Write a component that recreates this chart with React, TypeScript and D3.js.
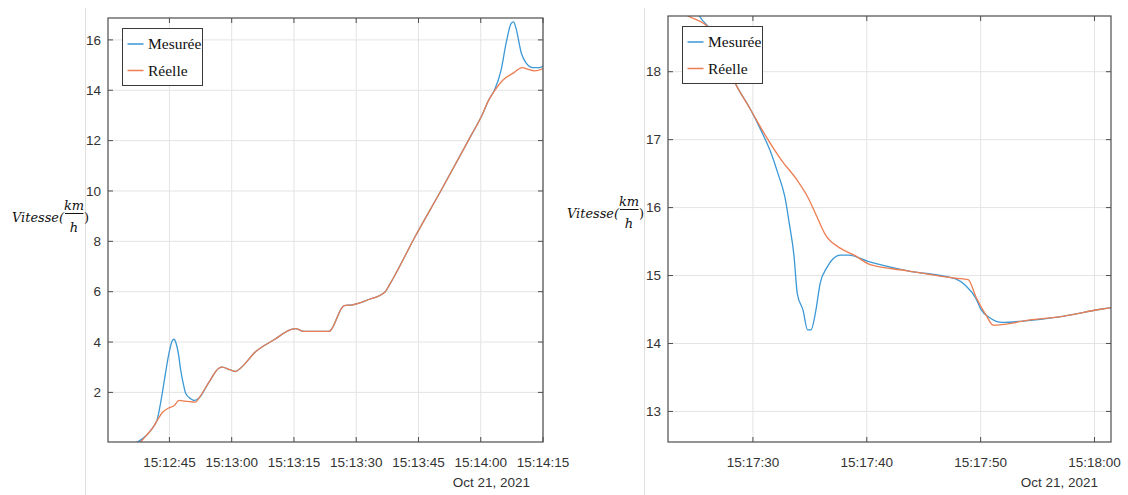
import React, { useEffect, useRef } from 'react';
import * as d3 from 'd3';

// Left panel: [seconds after 15:12:30, km/h]
const leftBlueStart: [number, number][] = [
  [7.2, 0.02], [9.5, 0.3], [11.0, 0.6], [12.1, 0.95], [13.0, 1.7], [13.7, 2.4],
  [14.9, 3.56], [15.7, 4.06], [16.1, 4.11], [16.6, 3.95], [17.2, 3.5], [17.7, 2.9],
  [18.4, 2.3], [18.9, 1.97], [20.1, 1.75], [21.1, 1.68],
];
const leftRedStart: [number, number][] = [
  [8.0, 0.02], [9.5, 0.3], [11.0, 0.6], [12.1, 0.9], [13.3, 1.2], [14.8, 1.38],
  [16.1, 1.47], [17.3, 1.68], [19.3, 1.64], [21.3, 1.61],
];
const leftShared: [number, number][] = [
  [22.1, 1.77], [24.5, 2.4], [26.9, 2.96], [27.7, 3.0], [29.5, 2.9], [30.9, 2.83],
  [32.1, 2.96], [35.8, 3.62], [40.2, 4.09], [44.6, 4.51], [45.4, 4.53], [47.4, 4.42],
  [53.5, 4.42], [53.9, 4.48], [57.1, 5.45], [59.1, 5.48], [62.7, 5.67], [67.0, 6.0],
  [68.0, 6.27], [74.4, 8.25], [80.5, 10.04], [87.3, 12.09], [90.5, 13.08],
];
const leftBlueEnd: [number, number][] = [
  [92.1, 13.67], [93.3, 14.0], [94.9, 14.8], [96.1, 15.86], [97.3, 16.65], [97.9, 16.72],
  [98.5, 16.46], [99.8, 15.46], [101.0, 15.07], [102.6, 14.9], [104.2, 14.9], [105.0, 14.96],
];
const leftRedEnd: [number, number][] = [
  [91.7, 13.54], [93.7, 14.07], [95.3, 14.4], [97.7, 14.67], [100.0, 14.9], [101.2, 14.84],
  [103.0, 14.77], [105.0, 14.86],
];

// Right panel: [seconds after 15:17:00, km/h]
const rightBlue: [number, number][] = [
  [24.8, 19.0], [25.3, 18.82], [26.3, 18.62], [28.6, 17.78], [29.8, 17.44], [30.7, 17.14],
  [31.6, 16.8], [32.2, 16.5], [32.8, 16.16], [33.2, 15.76], [33.6, 15.3], [33.9, 14.73],
  [34.4, 14.49], [34.8, 14.2], [35.1, 14.2], [35.5, 14.46], [35.9, 14.88], [36.5, 15.12],
  [37.0, 15.24], [37.7, 15.3], [38.4, 15.3], [40.1, 15.21], [43.6, 15.07], [47.8, 14.95],
  [48.7, 14.85], [49.6, 14.66], [50.0, 14.51], [50.8, 14.38], [51.9, 14.31], [53.7, 14.33],
  [57.2, 14.4], [60.4, 14.5], [61.5, 14.53],
];
const rightRed: [number, number][] = [
  [22.5, 18.98], [24.3, 18.82], [26.3, 18.62], [28.6, 17.78], [29.8, 17.44], [31.0, 17.09],
  [32.5, 16.7], [33.9, 16.4], [34.8, 16.16], [35.5, 15.91], [36.4, 15.59], [37.7, 15.4],
  [38.9, 15.3], [40.3, 15.16], [43.6, 15.07], [47.8, 14.96], [48.9, 14.94], [49.6, 14.68],
  [50.5, 14.41], [51.1, 14.27], [52.8, 14.3], [53.7, 14.33], [57.2, 14.4], [60.4, 14.5],
  [61.5, 14.53],
];

const leftYTicks = [2, 4, 6, 8, 10, 12, 14, 16];
const rightYTicks = [13, 14, 15, 16, 17, 18];
const legendLabels = ['Mesurée', 'Réelle'];
const dateLabel = 'Oct 21, 2021';

const BLUE = '#3b98d6';
const RED = '#ec7e52';

interface PanelCfg {
  id: string;
  base: Date;
  tDomain: [number, number];
  tickStep: number;
  yDomain: [number, number];
  yTicks: number[];
  box: { x0: number; x1: number; y0: number; y1: number };
  blue: [number, number][];
  red: [number, number][];
  dateEnd: number;
  labelX: number;
  labelDy: number;
}

const at = (base: Date, s: number) => new Date(base.getTime() + s * 1000);

function drawPanel(svg: d3.Selection<SVGSVGElement, unknown, null, undefined>, cfg: PanelCfg) {
  const { x0, x1, y0, y1 } = cfg.box;
  const x = d3.scaleTime()
    .domain([at(cfg.base, cfg.tDomain[0]), at(cfg.base, cfg.tDomain[1])])
    .range([x0, x1]);
  const y = d3.scaleLinear().domain(cfg.yDomain).range([y1, y0]);
  const xTicks = x.ticks(d3.timeSecond.every(cfg.tickStep)!).filter(d => x(d) >= x0 + 1);
  const fmt = d3.timeFormat('%H:%M:%S');

  const g = svg.append('g');

  g.append('rect')
    .attr('x', x0).attr('y', y0).attr('width', x1 - x0).attr('height', y1 - y0)
    .attr('fill', '#fff');

  // grid
  g.selectAll('line.vg').data(xTicks).enter().append('line')
    .attr('x1', d => x(d)).attr('x2', d => x(d)).attr('y1', y0).attr('y2', y1)
    .attr('stroke', '#e4e4e4').attr('stroke-width', 1);
  g.selectAll('line.hg').data(cfg.yTicks).enter().append('line')
    .attr('x1', x0).attr('x2', x1).attr('y1', d => y(d)).attr('y2', d => y(d))
    .attr('stroke', '#e4e4e4').attr('stroke-width', 1);

  // lines
  const clipId = `clip-${cfg.id}`;
  svg.append('defs').append('clipPath').attr('id', clipId)
    .append('rect').attr('x', x0).attr('y', y0).attr('width', x1 - x0).attr('height', y1 - y0);

  const line = d3.line<[number, number]>()
    .x(d => x(at(cfg.base, d[0])))
    .y(d => y(d[1]))
    .curve(d3.curveMonotoneX);

  const lg = g.append('g').attr('clip-path', `url(#${clipId})`);
  lg.append('path').attr('d', line(cfg.blue)!).attr('fill', 'none')
    .attr('stroke', BLUE).attr('stroke-width', 1.3);
  lg.append('path').attr('d', line(cfg.red)!).attr('fill', 'none')
    .attr('stroke', RED).attr('stroke-width', 1.3);

  // box and inward ticks
  const axisColor = '#4d4d4d';
  g.append('rect')
    .attr('x', x0).attr('y', y0).attr('width', x1 - x0).attr('height', y1 - y0)
    .attr('fill', 'none').attr('stroke', axisColor).attr('stroke-width', 1.2);
  const tl = 5;
  xTicks.forEach(d => {
    g.append('line').attr('x1', x(d)).attr('x2', x(d)).attr('y1', y1).attr('y2', y1 - tl)
      .attr('stroke', axisColor);
    g.append('line').attr('x1', x(d)).attr('x2', x(d)).attr('y1', y0).attr('y2', y0 + tl)
      .attr('stroke', axisColor);
  });
  cfg.yTicks.forEach(d => {
    g.append('line').attr('x1', x0).attr('x2', x0 + tl).attr('y1', y(d)).attr('y2', y(d))
      .attr('stroke', axisColor);
    g.append('line').attr('x1', x1).attr('x2', x1 - tl).attr('y1', y(d)).attr('y2', y(d))
      .attr('stroke', axisColor);
  });

  // tick labels
  const font = "'Liberation Sans', Arial, sans-serif";
  g.selectAll('text.xt').data(xTicks).enter().append('text')
    .attr('x', d => x(d)).attr('y', y1 + 25)
    .attr('text-anchor', 'middle').attr('font-family', font).attr('font-size', 13.5)
    .attr('fill', '#333').text(d => fmt(d));
  g.selectAll('text.yt').data(cfg.yTicks).enter().append('text')
    .attr('x', x0 - 7).attr('y', d => y(d)).attr('dy', '0.35em')
    .attr('text-anchor', 'end').attr('font-family', font).attr('font-size', 13.5)
    .attr('fill', '#333').text(d => d);
  g.append('text')
    .attr('x', cfg.dateEnd).attr('y', y1 + 45)
    .attr('text-anchor', 'end').attr('font-family', font).attr('font-size', 13.5)
    .attr('fill', '#333').text(dateLabel);

  // legend
  const lx = x0 + 14.5, ly = y0 + 10.5;
  const leg = g.append('g');
  leg.append('rect').attr('x', lx).attr('y', ly).attr('width', 80).attr('height', 57)
    .attr('fill', '#fff').attr('stroke', '#3a3a3a').attr('stroke-width', 1);
  legendLabels.forEach((lab, i) => {
    const yy = ly + 15.5 + i * 26.5;
    leg.append('line').attr('x1', lx + 5).attr('x2', lx + 21).attr('y1', yy).attr('y2', yy)
      .attr('stroke', i === 0 ? BLUE : RED).attr('stroke-width', 1.5);
    leg.append('text').attr('x', lx + 25.5).attr('y', yy).attr('dy', '0.33em')
      .attr('font-family', "'Liberation Serif', 'Times New Roman', serif").attr('font-size', 15.5)
      .attr('fill', '#111').text(lab);
  });

  // y label: Vitesse(km/h) with a fraction
  const serif = "'DejaVu Serif', serif";
  const lab = g.append('g').attr('transform', `translate(0,${cfg.labelDy})`)
    .attr('font-family', serif).attr('font-style', 'italic').attr('fill', '#111');
  const bx = cfg.labelX;
  lab.append('text').attr('x', bx).attr('y', 217).attr('dy', '0.35em')
    .attr('font-size', 13.5).attr('textLength', 52).attr('lengthAdjust', 'spacingAndGlyphs')
    .text('Vitesse(');
  lab.append('text').attr('x', bx + 62).attr('y', 205).attr('dy', '0.35em')
    .attr('text-anchor', 'middle').attr('font-size', 13).text('km');
  lab.append('line').attr('x1', bx + 53).attr('x2', bx + 71.5).attr('y1', 213.5).attr('y2', 213.5)
    .attr('stroke', '#111').attr('stroke-width', 1);
  lab.append('text').attr('x', bx + 62).attr('y', 227).attr('dy', '0.35em')
    .attr('text-anchor', 'middle').attr('font-size', 13).text('h');
  lab.append('text').attr('x', bx + 72).attr('y', 217).attr('dy', '0.35em')
    .attr('font-size', 13).attr('font-style', 'normal').text(')');
}

const App: React.FC = () => {
  const svgRef = useRef<SVGSVGElement>(null);

  useEffect(() => {
    if (!svgRef.current) return;
    const svg = d3.select(svgRef.current);
    svg.selectAll('*').remove();

    svg.append('rect').attr('width', 1128).attr('height', 495).attr('fill', '#fff');
    [85.5, 644.5].forEach(px => {
      svg.append('line').attr('x1', px).attr('x2', px).attr('y1', 8).attr('y2', 495)
        .attr('stroke', '#e0e0e0').attr('stroke-width', 1);
    });

    drawPanel(svg, {
      id: 'left',
      base: new Date(2021, 9, 21, 15, 12, 30),
      tDomain: [0.2, 105],
      tickStep: 15,
      yDomain: [0.03, 16.87],
      yTicks: leftYTicks,
      box: { x0: 108, x1: 543, y0: 18, y1: 442 },
      blue: [...leftBlueStart, ...leftShared, ...leftBlueEnd],
      red: [...leftRedStart, ...leftShared, ...leftRedEnd],
      dateEnd: 530,
      labelX: 12,
      labelDy: 0,
    });

    drawPanel(svg, {
      id: 'right',
      base: new Date(2021, 9, 21, 15, 17, 0),
      tDomain: [22.54, 61.45],
      tickStep: 10,
      yDomain: [12.55, 18.82],
      yTicks: rightYTicks,
      box: { x0: 668, x1: 1111, y0: 16, y1: 442 },
      blue: rightBlue,
      red: rightRed,
      dateEnd: 1098,
      labelX: 567,
      labelDy: -4,
    });
  }, []);

  return (
    <div style={{ position: 'absolute', left: 0, top: 0 }}>
      <svg ref={svgRef} width={1128} height={495} style={{ display: 'block' }} />
    </div>
  );
};

export default App;
